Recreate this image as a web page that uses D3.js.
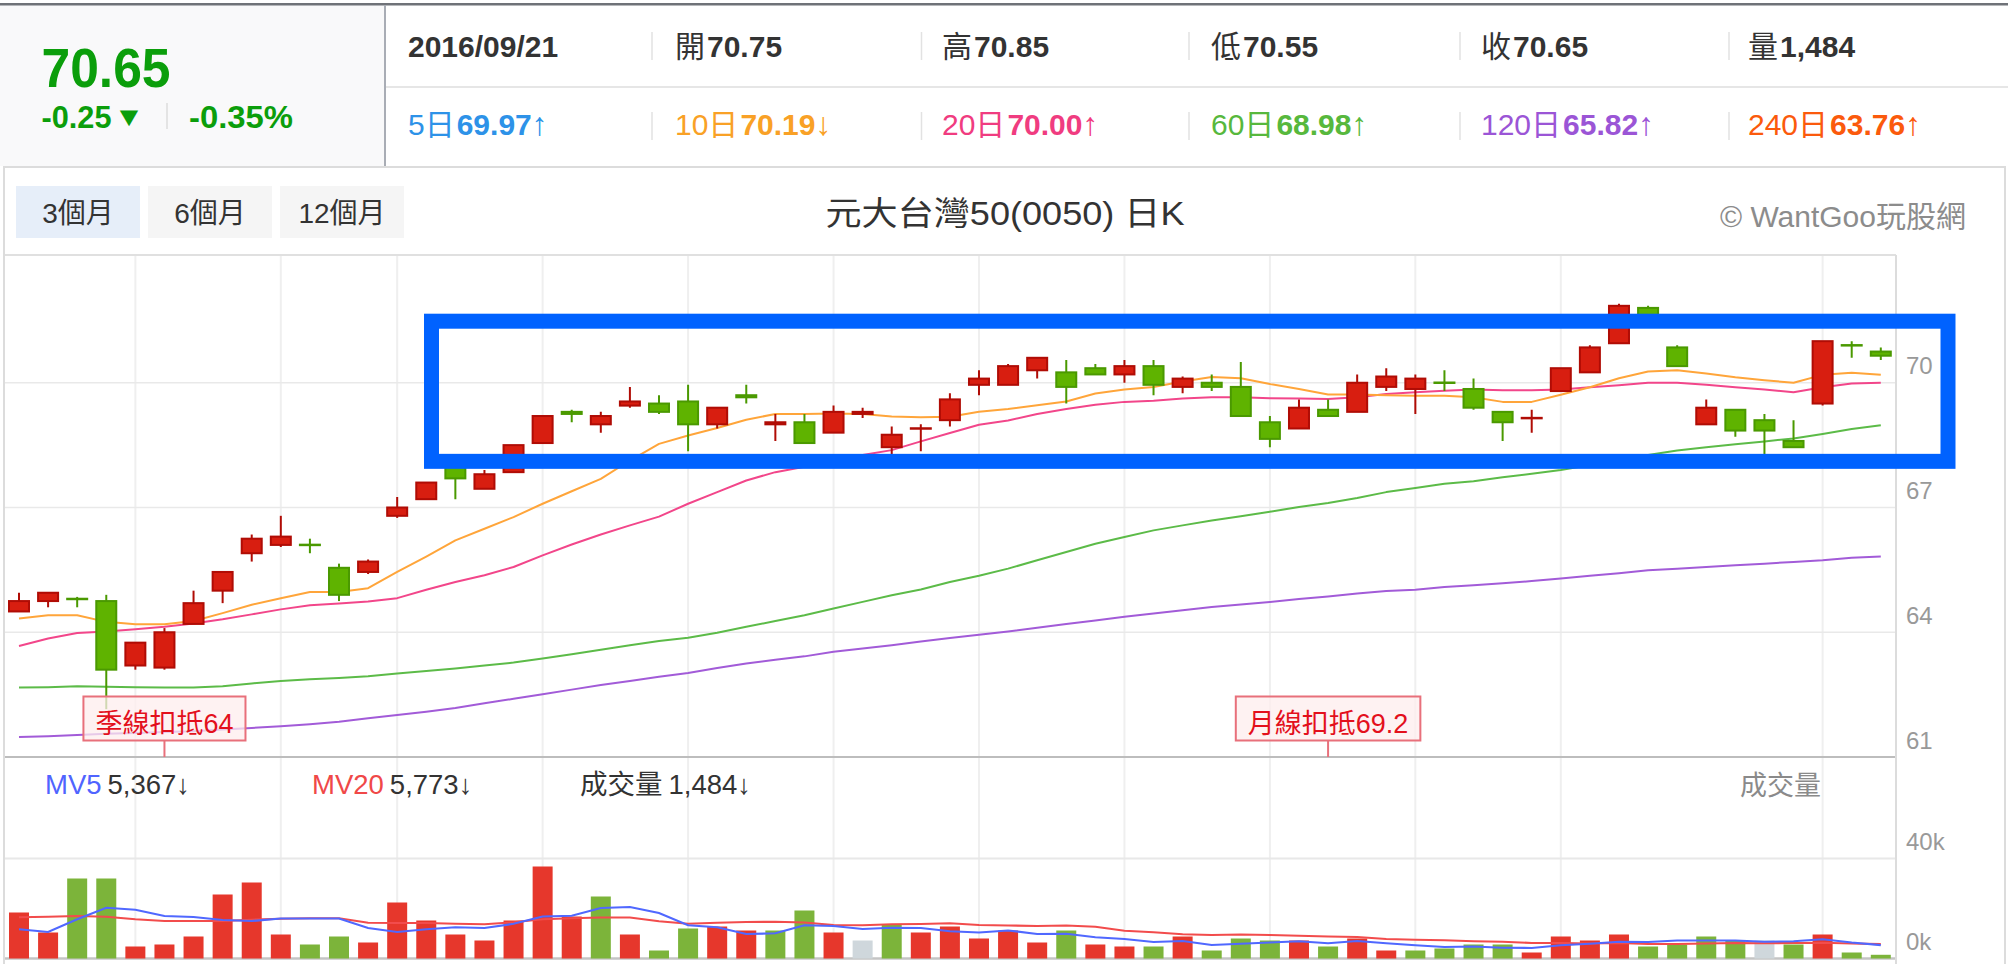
<!DOCTYPE html>
<html><head><meta charset="utf-8">
<script src="https://cdn.jsdelivr.net/npm/d3@7/dist/d3.min.js"></script>
<style>
html,body{margin:0;padding:0;background:#fff;}
svg{display:block;}
text{font-family:"Liberation Sans",Arial,"Noto Sans CJK TC",sans-serif;}
</style></head>
<body>
<svg id="chart" width="2008" height="964"></svg>
<script>
// ---------------- DATA ----------------
const opens  = [64.50,64.75,64.80,64.75,63.20,63.15,64.20,65.00,65.90,66.10,66.10,65.55,65.45,66.80,67.20,68.00,67.45,67.85,68.55,69.30,69.00,69.45,69.50,69.55,69.00,69.70,69.00,69.05,68.80,69.25,68.45,68.90,69.10,69.95,69.95,70.30,70.25,70.35,70.20,70.40,69.90,70.00,69.90,69.05,68.90,69.35,69.30,69.90,69.85,70.00,69.85,69.30,69.15,69.80,70.25,70.95,71.80,70.85,69.00,69.35,69.10,68.60,69.50,70.90,70.75];
const highs  = [64.95,64.95,64.85,64.90,63.75,64.10,65.00,65.45,66.35,66.80,66.25,65.65,65.75,67.25,67.60,68.05,67.90,68.50,69.20,69.35,69.30,69.90,69.70,69.95,69.40,69.95,69.25,69.25,69.45,69.40,68.95,69.00,69.75,70.30,70.45,70.60,70.55,70.45,70.55,70.55,70.15,70.20,70.50,69.20,69.60,69.60,70.20,70.35,70.20,70.30,70.10,69.30,69.35,70.35,70.90,71.90,71.85,70.90,69.60,69.35,69.25,69.10,71.00,71.00,70.85];
const lows   = [64.50,64.60,64.60,62.15,63.10,63.10,64.20,64.70,65.70,66.05,65.90,64.75,65.40,66.75,67.20,67.20,67.45,67.85,68.55,69.05,68.80,69.40,69.25,68.35,68.90,69.50,68.60,68.55,68.80,69.15,68.25,68.35,68.95,69.70,69.95,70.10,69.50,70.20,70.00,69.70,69.75,69.80,69.20,68.45,68.90,69.20,69.30,69.80,69.25,69.80,69.35,68.60,68.80,69.80,70.25,70.95,71.45,70.40,69.00,68.70,68.15,68.45,69.45,70.60,70.55];
const closes = [64.75,64.95,64.80,63.10,63.75,64.00,64.70,65.45,66.25,66.30,66.10,64.90,65.70,67.00,67.60,67.70,67.80,68.50,69.20,69.25,69.20,69.55,69.30,69.00,69.40,69.65,69.05,68.55,69.30,69.30,68.75,68.90,69.60,70.10,70.40,70.60,69.90,70.20,70.40,69.95,70.10,69.90,69.20,68.65,69.40,69.20,70.00,70.15,70.10,70.00,69.40,69.05,69.15,70.35,70.85,71.85,71.45,70.40,69.40,68.85,68.85,68.45,71.00,70.90,70.65];
// volume in thousands of lots
const volumes = [18.4,10.4,32.0,32.0,4.8,5.6,8.8,25.6,30.4,9.6,5.6,8.8,6.4,22.4,15.2,9.6,7.2,15.2,36.8,16.8,24.8,9.6,3.2,12.0,12.8,11.2,11.2,19.2,10.4,7.2,13.6,10.4,12.8,8.0,11.2,6.4,11.2,5.6,4.8,4.8,8.8,3.2,8.0,7.2,7.2,4.8,8.0,3.2,3.2,4.0,5.6,5.6,2.4,8.8,7.2,9.6,4.8,5.6,8.8,7.2,7.2,5.6,9.6,2.4,1.484];
const ma10  = [64.33,64.41,64.41,64.25,64.19,64.19,64.27,64.46,64.66,64.82,64.97,64.97,65.06,65.45,65.82,66.21,66.49,66.77,67.09,67.39,67.69,68.13,68.53,68.73,68.91,69.11,69.25,69.25,69.26,69.25,69.19,69.17,69.18,69.30,69.37,69.46,69.55,69.74,69.84,69.90,70.03,70.14,70.11,69.97,69.85,69.72,69.72,69.70,69.69,69.69,69.65,69.54,69.54,69.71,69.89,70.11,70.27,70.30,70.22,70.13,70.06,70.00,70.19,70.24,70.19];
const ma20  = [63.67,63.85,63.98,64.02,64.07,64.13,64.21,64.31,64.43,64.55,64.65,64.69,64.74,64.82,65.02,65.21,65.37,65.57,65.85,66.11,66.35,66.57,66.78,67.09,67.37,67.65,67.85,67.98,68.13,68.26,68.38,68.59,68.79,68.99,69.09,69.25,69.37,69.47,69.54,69.57,69.62,69.65,69.65,69.63,69.62,69.61,69.65,69.73,69.77,69.81,69.84,69.82,69.82,69.84,69.89,69.94,70.00,70.00,69.95,69.89,69.84,69.77,69.89,69.98,70.00];
const ma60  = [62.67,62.68,62.70,62.69,62.68,62.67,62.67,62.70,62.77,62.83,62.87,62.90,62.94,63.01,63.07,63.13,63.20,63.27,63.37,63.47,63.58,63.69,63.79,63.87,63.99,64.13,64.27,64.41,64.57,64.73,64.89,65.03,65.21,65.36,65.53,65.73,65.93,66.13,66.29,66.45,66.57,66.69,66.79,66.90,67.01,67.11,67.23,67.37,67.47,67.57,67.63,67.73,67.81,67.90,68.02,68.13,68.26,68.37,68.45,68.52,68.59,68.66,68.77,68.89,68.98];
const ma120 = [61.48,61.50,61.53,61.56,61.58,61.60,61.62,61.66,61.70,61.74,61.79,61.85,61.93,62.01,62.09,62.18,62.29,62.40,62.51,62.62,62.73,62.83,62.93,63.02,63.14,63.25,63.34,63.42,63.53,63.61,63.69,63.78,63.86,63.94,64.02,64.11,64.20,64.28,64.37,64.45,64.53,64.61,64.67,64.73,64.80,64.86,64.93,64.99,65.02,65.09,65.13,65.18,65.23,65.29,65.36,65.42,65.49,65.53,65.57,65.61,65.65,65.69,65.73,65.79,65.82];
const volMa5  = [11.7,10.6,15.7,20.3,19.5,17.0,16.6,15.4,15.0,16.0,16.0,16.0,12.2,10.6,11.7,12.5,12.2,13.9,16.8,17.1,20.2,20.6,18.2,13.3,12.5,9.8,10.1,13.3,13.0,11.8,12.3,12.2,10.9,10.4,11.2,9.8,9.9,8.5,7.8,6.6,7.0,5.4,5.9,6.4,6.9,6.1,7.0,6.1,5.3,4.6,4.8,4.3,4.2,5.3,5.9,6.7,6.6,7.2,7.2,7.2,6.7,6.9,7.7,6.4,5.367];
const volMa20 = [16.5,16.7,17.0,16.7,15.7,15.0,15.0,15.0,15.5,15.9,16.1,16.1,14.3,14.2,14.2,13.9,13.7,14.5,15.7,16.1,16.4,16.4,14.9,13.9,14.3,14.6,14.7,14.4,13.4,13.3,13.7,13.8,14.1,13.4,13.2,13.0,13.2,12.7,11.1,10.5,9.7,9.4,9.6,9.4,9.1,8.8,8.6,7.8,7.5,7.3,6.9,6.7,6.2,6.2,6.0,6.2,5.8,5.8,6.0,6.2,6.1,6.2,6.3,6.0,5.773];

const priceTicks = [61, 64, 67, 70];
const volTicks = [0, 40];
const volTickLabels = ["0k", "40k"];
const weekGridIdx = [4, 9, 13, 18, 23, 28, 33, 38, 43, 48, 53, 62];

const quote = {price:"70.65", change:"-0.25", dir:"▼", pct:"-0.35%"};
const headerRow1 = [
  {label:"", value:"2016/09/21"}, {label:"開", value:"70.75"}, {label:"高", value:"70.85"},
  {label:"低", value:"70.55"}, {label:"收", value:"70.65"}, {label:"量", value:"1,484"}];
const headerRow2 = [
  {label:"5日", value:"69.97", arrow:"↑"}, {label:"10日", value:"70.19", arrow:"↓"},
  {label:"20日", value:"70.00", arrow:"↑"}, {label:"60日", value:"68.98", arrow:"↑"},
  {label:"120日", value:"65.82", arrow:"↑"}, {label:"240日", value:"63.76", arrow:"↑"}];
const rangeButtons = ["3個月", "6個月", "12個月"];
const title = "元大台灣50(0050) 日K";
const watermark = "© WantGoo玩股網";
const deductions = [{idx:5, text:"季線扣抵64"}, {idx:45, text:"月線扣抵69.2"}];
const highlight = {fromIdx:14.18, toIdx:66.31, top:71.48, bottom:68.11};
const volLegend = [{name:"MV5", value:"5,367↓"}, {name:"MV20", value:"5,773↓"}, {name:"成交量", value:"1,484↓"}];

// ---------------- STYLE ----------------
const rowColors = ["#2d92e8","#f9a126","#f03c80","#57b83d","#9b55d6","#fb5a0c"];
const maColors = {ma10:"#ffa53a", ma20:"#f2468a", ma60:"#5cbb48", ma120:"#a25bd8"};
const UP_FILL="#d81e10", UP_STROKE="#b00c05", DN_FILL="#5fb300", DN_STROKE="#4a9900";
const VUP="#e6372c", VDN="#7cb43a", VEQ="#cfd7dc";

const svg = d3.select("#chart");
const W = 2008;

// ---------------- HEADER ----------------
svg.append("rect").attr("x",0).attr("y",5).attr("width",385).attr("height",161).attr("fill","#f9f9fa");
svg.append("rect").attr("x",0).attr("y",3).attr("width",W).attr("height",2.5).attr("fill","#6f7278");
svg.append("line").attr("x1",385).attr("x2",385).attr("y1",5).attr("y2",166).attr("stroke","#a9adb5").attr("stroke-width",2);
svg.append("line").attr("x1",386).attr("x2",W).attr("y1",87).attr("y2",87).attr("stroke","#e6e6e6").attr("stroke-width",2);

const green = "#0b9e0b";
svg.append("text").attr("x",41.5).attr("y",87).attr("font-size",56).attr("font-weight","bold")
  .attr("fill",green).attr("textLength",129).attr("lengthAdjust","spacingAndGlyphs").text(quote.price);
svg.append("text").attr("x",41.5).attr("y",128).attr("font-size",31).attr("font-weight","bold")
  .attr("fill",green).attr("textLength",70).attr("lengthAdjust","spacingAndGlyphs").text(quote.change);
svg.append("text").attr("x",113.5).attr("y",125.5).attr("font-size",27).attr("font-family","DejaVu Sans")
  .attr("fill",green).attr("textLength",31).attr("lengthAdjust","spacingAndGlyphs").text(quote.dir);
svg.append("line").attr("x1",167).attr("x2",167).attr("y1",103).attr("y2",129).attr("stroke","#dddddd").attr("stroke-width",1.5);
svg.append("text").attr("x",189).attr("y",128).attr("font-size",31).attr("font-weight","bold")
  .attr("fill",green).attr("textLength",104).attr("lengthAdjust","spacingAndGlyphs").text(quote.pct);

const cellX = [408, 675, 942, 1211, 1481, 1748];
const sepX = [652, 921.5, 1189, 1460, 1729];
sepX.forEach(x => {
  svg.append("line").attr("x1",x).attr("x2",x).attr("y1",32).attr("y2",60).attr("stroke","#e2e2e2").attr("stroke-width",1.5);
  svg.append("line").attr("x1",x).attr("x2",x).attr("y1",112).attr("y2",140).attr("stroke","#e2e2e2").attr("stroke-width",1.5);
});
headerRow1.forEach((d,i) => {
  const t = svg.append("text").attr("x",cellX[i]).attr("y",57).attr("font-size",30).attr("fill","#333");
  if (d.label) t.append("tspan").text(d.label);
  t.append("tspan").attr("font-weight","bold").attr("dx", d.label ? 2 : 0).text(d.value);
});
headerRow2.forEach((d,i) => {
  const t = svg.append("text").attr("x",cellX[i]).attr("y",135).attr("font-size",30).attr("fill",rowColors[i]);
  t.append("tspan").text(d.label);
  t.append("tspan").attr("font-weight","bold").attr("dx",2).text(d.value);
  t.append("tspan").attr("font-size",32).text(d.arrow);
});

// ---------------- CHART PANEL ----------------
svg.append("rect").attr("x",4).attr("y",167).attr("width",2001).attr("height",820)
  .attr("fill","none").attr("stroke","#dcdcdc").attr("stroke-width",2);
rangeButtons.forEach((b,i) => {
  const x = 16 + i*132;
  svg.append("rect").attr("x",x).attr("y",186).attr("width",124).attr("height",52)
    .attr("fill", i===0 ? "#e6eef9" : "#f5f5f5");
  svg.append("text").attr("x",x+62).attr("y",223).attr("text-anchor","middle")
    .attr("font-size",28).attr("fill","#333").text(b);
});
svg.append("text").attr("x",1005).attr("y",225).attr("text-anchor","middle").attr("font-size",33)
  .attr("fill","#333").attr("textLength",359).attr("lengthAdjust","spacingAndGlyphs").text(title);
svg.append("text").attr("x",1966).attr("y",227).attr("text-anchor","end").attr("font-size",30)
  .attr("fill","#8c8c8c").text(watermark);

// ---------------- SCALES ----------------
const n = closes.length;
const x = d3.scaleLinear().domain([0, n-1]).range([19, 1880.8]);
const y = d3.scaleLinear().domain([61, 73]).range([757, 258]);
const yv = d3.scaleLinear().domain([0, 40]).range([958.5, 858.5]);
const plotL = 5, plotR = 1896, plotT = 255, volB = 958.5;

svg.append("defs").append("clipPath").attr("id","plotclip")
  .append("rect").attr("x",plotL).attr("y",plotT).attr("width",plotR-plotL).attr("height",volB-plotT+4);

const grid = svg.append("g");
grid.selectAll("line.v").data(weekGridIdx).join("line")
  .attr("x1",d=>x(d)).attr("x2",d=>x(d)).attr("y1",plotT).attr("y2",volB)
  .attr("stroke","#efefef").attr("stroke-width",2);
grid.selectAll("line.h").data(priceTicks.filter(t=>t>61)).join("line")
  .attr("x1",plotL).attr("x2",plotR).attr("y1",d=>y(d)).attr("y2",d=>y(d))
  .attr("stroke","#e9e9e9").attr("stroke-width",1.5);
grid.append("line").attr("x1",plotL).attr("x2",plotR).attr("y1",plotT).attr("y2",plotT)
  .attr("stroke","#e0e0e0").attr("stroke-width",2);
grid.append("line").attr("x1",plotL).attr("x2",plotR).attr("y1",yv(40)).attr("y2",yv(40))
  .attr("stroke","#e8e8e8").attr("stroke-width",2);
grid.append("line").attr("x1",plotL).attr("x2",plotR).attr("y1",y(61)).attr("y2",y(61))
  .attr("stroke","#bdbdbd").attr("stroke-width",2);
grid.append("line").attr("x1",plotL).attr("x2",plotR).attr("y1",volB).attr("y2",volB)
  .attr("stroke","#c4c4c4").attr("stroke-width",2.5);
grid.append("line").attr("x1",plotR).attr("x2",plotR).attr("y1",plotT).attr("y2",964)
  .attr("stroke","#dcdcdc").attr("stroke-width",2);

// axis labels (right side)
const yAxis = d3.axisRight(y).tickValues(priceTicks).tickSize(0).tickPadding(0).tickFormat(d3.format("d"));
const ag = svg.append("g").attr("transform","translate(1906,0)").call(yAxis);
ag.select(".domain").remove();
ag.selectAll("text").attr("font-size",24).attr("fill","#999").attr("dy",null).attr("x",0).attr("y",-9);
ag.attr("font-family",null).attr("font-size",null);

const vAxis = d3.axisRight(yv).tickValues(volTicks).tickSize(0).tickPadding(0).tickFormat((d,i)=>volTickLabels[i]);
const vg = svg.append("g").attr("transform","translate(1906,0)").call(vAxis);
vg.select(".domain").remove();
vg.selectAll("text").attr("font-size",24).attr("fill","#999").attr("dy",null).attr("x",0).attr("y",-9);
vg.attr("font-family",null).attr("font-size",null);

// ---------------- PRICE: MA LINES ----------------
const plot = svg.append("g").attr("clip-path","url(#plotclip)");
const line = d3.line().x((d,i)=>x(i)).y(d=>y(d));
[["ma120",ma120],["ma60",ma60],["ma20",ma20],["ma10",ma10]].forEach(([k,arr]) => {
  plot.append("path").attr("d",line(arr)).attr("fill","none")
    .attr("stroke",maColors[k]).attr("stroke-width",2).attr("stroke-linejoin","round");
});

// ---------------- CANDLES ----------------
const candles = d3.range(n).map(i => {
  const o=opens[i], c=closes[i];
  let up;
  if (c > o) up = true; else if (c < o) up = false;
  else up = i === 0 ? true : c >= closes[i-1];
  return {i, o, h:highs[i], l:lows[i], c, up};
});
const cg = plot.append("g");
cg.selectAll("line.wick").data(candles).join("line")
  .attr("x1",d=>x(d.i)).attr("x2",d=>x(d.i)).attr("y1",d=>y(d.h)).attr("y2",d=>y(d.l))
  .attr("stroke",d=>d.up?UP_STROKE:DN_STROKE).attr("stroke-width",2);
cg.selectAll("rect.body").data(candles).join("rect")
  .attr("x",d=>x(d.i)-10).attr("width",20)
  .attr("y",d=>{ const h=Math.abs(y(d.o)-y(d.c)); return y(Math.max(d.o,d.c)) - (h<0.5 ? (0.5-h)/2 : 0); })
  .attr("height",d=>Math.max(Math.abs(y(d.o)-y(d.c)),0.5))
  .attr("fill",d=>d.up?UP_FILL:DN_FILL)
  .attr("stroke",d=>d.up?UP_STROKE:DN_STROKE).attr("stroke-width",2);

// ---------------- DEDUCTION LABELS ----------------
deductions.forEach(d => {
  const cx = x(d.idx);
  const g = svg.append("g");
  const t = g.append("text").attr("x",cx).attr("y",y(61)-24.5).attr("text-anchor","middle")
    .attr("font-size",27).attr("fill","#e3101c").text(d.text);
  const w = t.node().getComputedTextLength() + 24;
  g.insert("rect","text").attr("x",cx-w/2).attr("y",y(61)-60.5).attr("width",w).attr("height",44)
    .attr("fill","#fdeeee").attr("fill-opacity",0.75).attr("stroke","#e8707b").attr("stroke-width",2);
  g.append("line").attr("x1",cx).attr("x2",cx).attr("y1",y(61)-16.5).attr("y2",y(61))
    .attr("stroke","#e8707b").attr("stroke-width",2);
});

// ---------------- HIGHLIGHT BOX ----------------
svg.append("rect")
  .attr("x",x(highlight.fromIdx)).attr("y",y(highlight.top))
  .attr("width",x(highlight.toIdx)-x(highlight.fromIdx))
  .attr("height",y(highlight.bottom)-y(highlight.top))
  .attr("fill","none").attr("stroke","#0062ff").attr("stroke-width",15);

// ---------------- VOLUME ----------------
const vgp = svg.append("g").attr("clip-path","url(#plotclip)");
vgp.selectAll("rect.vol").data(volumes).join("rect")
  .attr("x",(d,i)=>x(i)-10).attr("width",20)
  .attr("y",d=>yv(d)).attr("height",d=>volB-yv(d))
  .attr("fill",(d,i)=> i===0 ? VUP : (closes[i]>closes[i-1] ? VUP : (closes[i]<closes[i-1] ? VDN : VEQ)));
const vline = d3.line().x((d,i)=>x(i)).y(d=>yv(d));
vgp.append("path").attr("d",vline(volMa20)).attr("fill","none").attr("stroke","#f24c4c").attr("stroke-width",2.2);
vgp.append("path").attr("d",vline(volMa5)).attr("fill","none").attr("stroke","#5068ff").attr("stroke-width",2.2);

// volume legend
const legX = [45, 312, 580];
const legColors = ["#5064ff","#f04848","#333"];
volLegend.forEach((d,i) => {
  const t = svg.append("text").attr("x",legX[i]).attr("y",794).attr("font-size",27.5).attr("fill","#333");
  t.append("tspan").attr("fill",legColors[i]).text(d.name);
  t.append("tspan").attr("dx",6).text(d.value);
});
svg.append("text").attr("x",1740).attr("y",795).attr("font-size",27).attr("fill","#8a8a8a").text("成交量");
</script>
</body></html>
